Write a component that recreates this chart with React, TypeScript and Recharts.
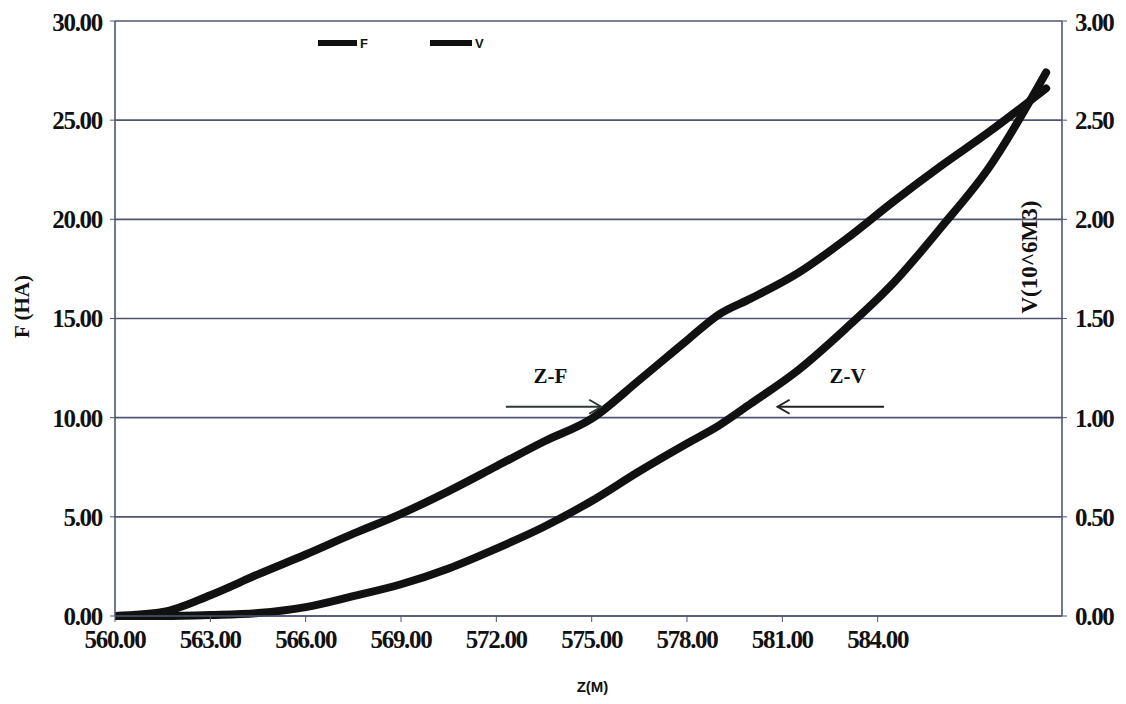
import React from 'react';
import {
  ComposedChart,
  Line,
  XAxis,
  YAxis,
  CartesianGrid,
  ReferenceLine,
  ReferenceDot,
  Label,
} from 'recharts';

// Elevation Z (m)
const zValues = [560, 561.5, 563, 564.5, 566, 567.5, 569, 570.5, 572, 573.5, 575, 576.5, 578, 579, 580, 581.5, 583, 584.5, 586, 587.5, 589.3];
// Area F (ha)
const fValues = [0, 0.2, 1.05, 2.1, 3.1, 4.15, 5.15, 6.3, 7.55, 8.8, 9.95, 11.9, 13.9, 15.2, 16.0, 17.3, 19.0, 20.9, 22.7, 24.4, 26.6];
// Volume V (10^6 m3)
const vValues = [0, 0, 0.005, 0.015, 0.045, 0.1, 0.16, 0.24, 0.34, 0.45, 0.58, 0.73, 0.87, 0.96, 1.07, 1.24, 1.45, 1.68, 1.96, 2.26, 2.74];

const xTicks = [560, 563, 566, 569, 572, 575, 578, 581, 584];
const fTicks = [0, 5, 10, 15, 20, 25, 30];
const vTicks = [0, 0.5, 1, 1.5, 2, 2.5, 3];

const seriesNames = ['F', 'V'];

// annotation arrows (data coordinates on F axis)
const zfArrow = { fromZ: 572.3, toZ: 575.3, f: 10.55 };
const zvArrow = { fromZ: 584.2, toZ: 580.85, f: 10.55 };
const zfText = { z: 573.7, f: 12.1, text: 'Z-F' };
const zvText = { z: 583.05, f: 12.1, text: 'Z-V' };

const rows = zValues.map((z, i) => ({ z, f: fValues[i], v: vValues[i] }));

const SERIF = '"Liberation Serif", "DejaVu Serif", serif';
const NARROW = '"Liberation Sans Narrow", "Liberation Sans", Arial, sans-serif';
const GRID = '#4f5672';

const arrowShape = (color: string) => (p: any) => {
  const { x1, y1, x2, y2 } = p;
  const dir = x2 > x1 ? 1 : -1;
  return (
    <g>
      <line x1={x1} y1={y1} x2={x2} y2={y2} stroke={color} strokeWidth={2.2} />
      <polyline
        points={`${x2 - dir * 12},${y2 - 7} ${x2},${y2} ${x2 - dir * 12},${y2 + 7}`}
        fill="none"
        stroke={color}
        strokeWidth={2}
      />
    </g>
  );
};

const textShape = (text: string) => (p: any) => (
  <text
    x={p.cx}
    y={p.cy}
    textAnchor="middle"
    dominantBaseline="central"
    fontFamily={SERIF}
    fontWeight="bold"
    fontSize={21}
    fill="#111"
  >
    {text}
  </text>
);

const tickStyle = {
  fontFamily: SERIF,
  fontWeight: 'bold' as const,
  fontSize: 25,
  fill: '#111',
  letterSpacing: -1.3,
};

export default function App() {
  return (
    <div style={{ width: 1118, height: 696, background: '#fff', position: 'relative' }}>
      <ComposedChart
        width={1118}
        height={696}
        data={rows}
        margin={{ top: 13, right: 0, bottom: 40, left: 0 }}
      >
        <CartesianGrid yAxisId="f" vertical={false} stroke={GRID} strokeWidth={1.6} />
        <XAxis
          dataKey="z"
          type="number"
          domain={[560, 589.8]}
          ticks={xTicks}
          tickFormatter={(v: number) => v.toFixed(2)}
          tick={tickStyle}
          tickSize={6}
          tickMargin={8}
          height={48}
          axisLine={{ stroke: GRID, strokeWidth: 1.6 }}
          tickLine={{ stroke: GRID }}
          allowDataOverflow
        >
          <Label
            content={(props: any) => {
              const vb = props.viewBox;
              return (
                <text
                  x={vb.x + vb.width / 2 + 4}
                  y={vb.y + vb.height + 28}
                  textAnchor="middle"
                  fontFamily={NARROW}
                  fontWeight="bold"
                  fontSize={15}
                  fill="#111"
                >
                  Z(M)
                </text>
              );
            }}
          />
        </XAxis>
        <YAxis
          yAxisId="f"
          orientation="left"
          domain={[0, 30]}
          ticks={fTicks}
          tickFormatter={(v: number) => v.toFixed(2)}
          tick={tickStyle}
          tickSize={5}
          tickMargin={8}
          width={107}
          axisLine={{ stroke: GRID, strokeWidth: 1.6 }}
          tickLine={{ stroke: GRID }}
        >
          <Label
            content={(props: any) => {
              const vb = props.viewBox;
              const cx = vb.x + 14;
              const cy = vb.y + vb.height / 2 - 12;
              return (
                <text
                  x={cx}
                  y={cy}
                  transform={`rotate(-90 ${cx} ${cy})`}
                  textAnchor="middle"
                  dominantBaseline="central"
                  fontFamily={SERIF}
                  fontWeight="bold"
                  fontSize={21}
                  fill="#111"
                >
                  F (HA)
                </text>
              );
            }}
          />
        </YAxis>
        <YAxis
          yAxisId="v"
          orientation="right"
          domain={[0, 3]}
          ticks={vTicks}
          tickFormatter={(v: number) => v.toFixed(2)}
          tick={tickStyle}
          tickSize={5}
          tickMargin={8}
          width={64}
          axisLine={{ stroke: GRID, strokeWidth: 1.6 }}
          tickLine={{ stroke: GRID }}
        >
          <Label
            content={(props: any) => {
              const vb = props.viewBox;
              const cx = vb.x - 33;
              const cy = vb.y + 236;
              return (
                <text
                  x={cx}
                  y={cy}
                  transform={`rotate(-90 ${cx} ${cy})`}
                  textAnchor="middle"
                  dominantBaseline="central"
                  fontFamily={SERIF}
                  fontWeight="bold"
                  fontSize={23}
                  fill="#111"
                >
                  V(10^6M3)
                </text>
              );
            }}
          />
        </YAxis>
        <Line
          yAxisId="f"
          dataKey="f"
          name={seriesNames[0]}
          type="monotone"
          stroke="#111"
          strokeWidth={8}
          dot={false}
          isAnimationActive={false}
          strokeLinecap="round"
        />
        <Line
          yAxisId="v"
          dataKey="v"
          name={seriesNames[1]}
          type="monotone"
          stroke="#111"
          strokeWidth={8}
          dot={false}
          isAnimationActive={false}
          strokeLinecap="round"
        />
        <ReferenceLine
          yAxisId="f"
          segment={[{ x: zfArrow.fromZ, y: zfArrow.f }, { x: zfArrow.toZ, y: zfArrow.f }]}
          shape={arrowShape('#2c3a33')}
        />
        <ReferenceLine
          yAxisId="f"
          segment={[{ x: zvArrow.fromZ, y: zvArrow.f }, { x: zvArrow.toZ, y: zvArrow.f }]}
          shape={arrowShape('#222')}
        />
        <ReferenceDot yAxisId="f" x={zfText.z} y={zfText.f} r={0} shape={textShape(zfText.text)} />
        <ReferenceDot yAxisId="f" x={zvText.z} y={zvText.f} r={0} shape={textShape(zvText.text)} />
      </ComposedChart>
      <svg
        width={200}
        height={20}
        style={{ position: 'absolute', left: 305, top: 25 }}
      >
        <line x1={5} y1={10} x2={44} y2={10} stroke="#111" strokeWidth={6} />
        <text x={47} y={15} fontFamily={NARROW} fontWeight="bold" fontSize={13} fill="#111">
          {seriesNames[0]}
        </text>
        <line x1={117} y1={10} x2={159} y2={10} stroke="#111" strokeWidth={6} />
        <text x={162} y={15} fontFamily={NARROW} fontWeight="bold" fontSize={13} fill="#111">
          {seriesNames[1]}
        </text>
      </svg>
    </div>
  );
}
